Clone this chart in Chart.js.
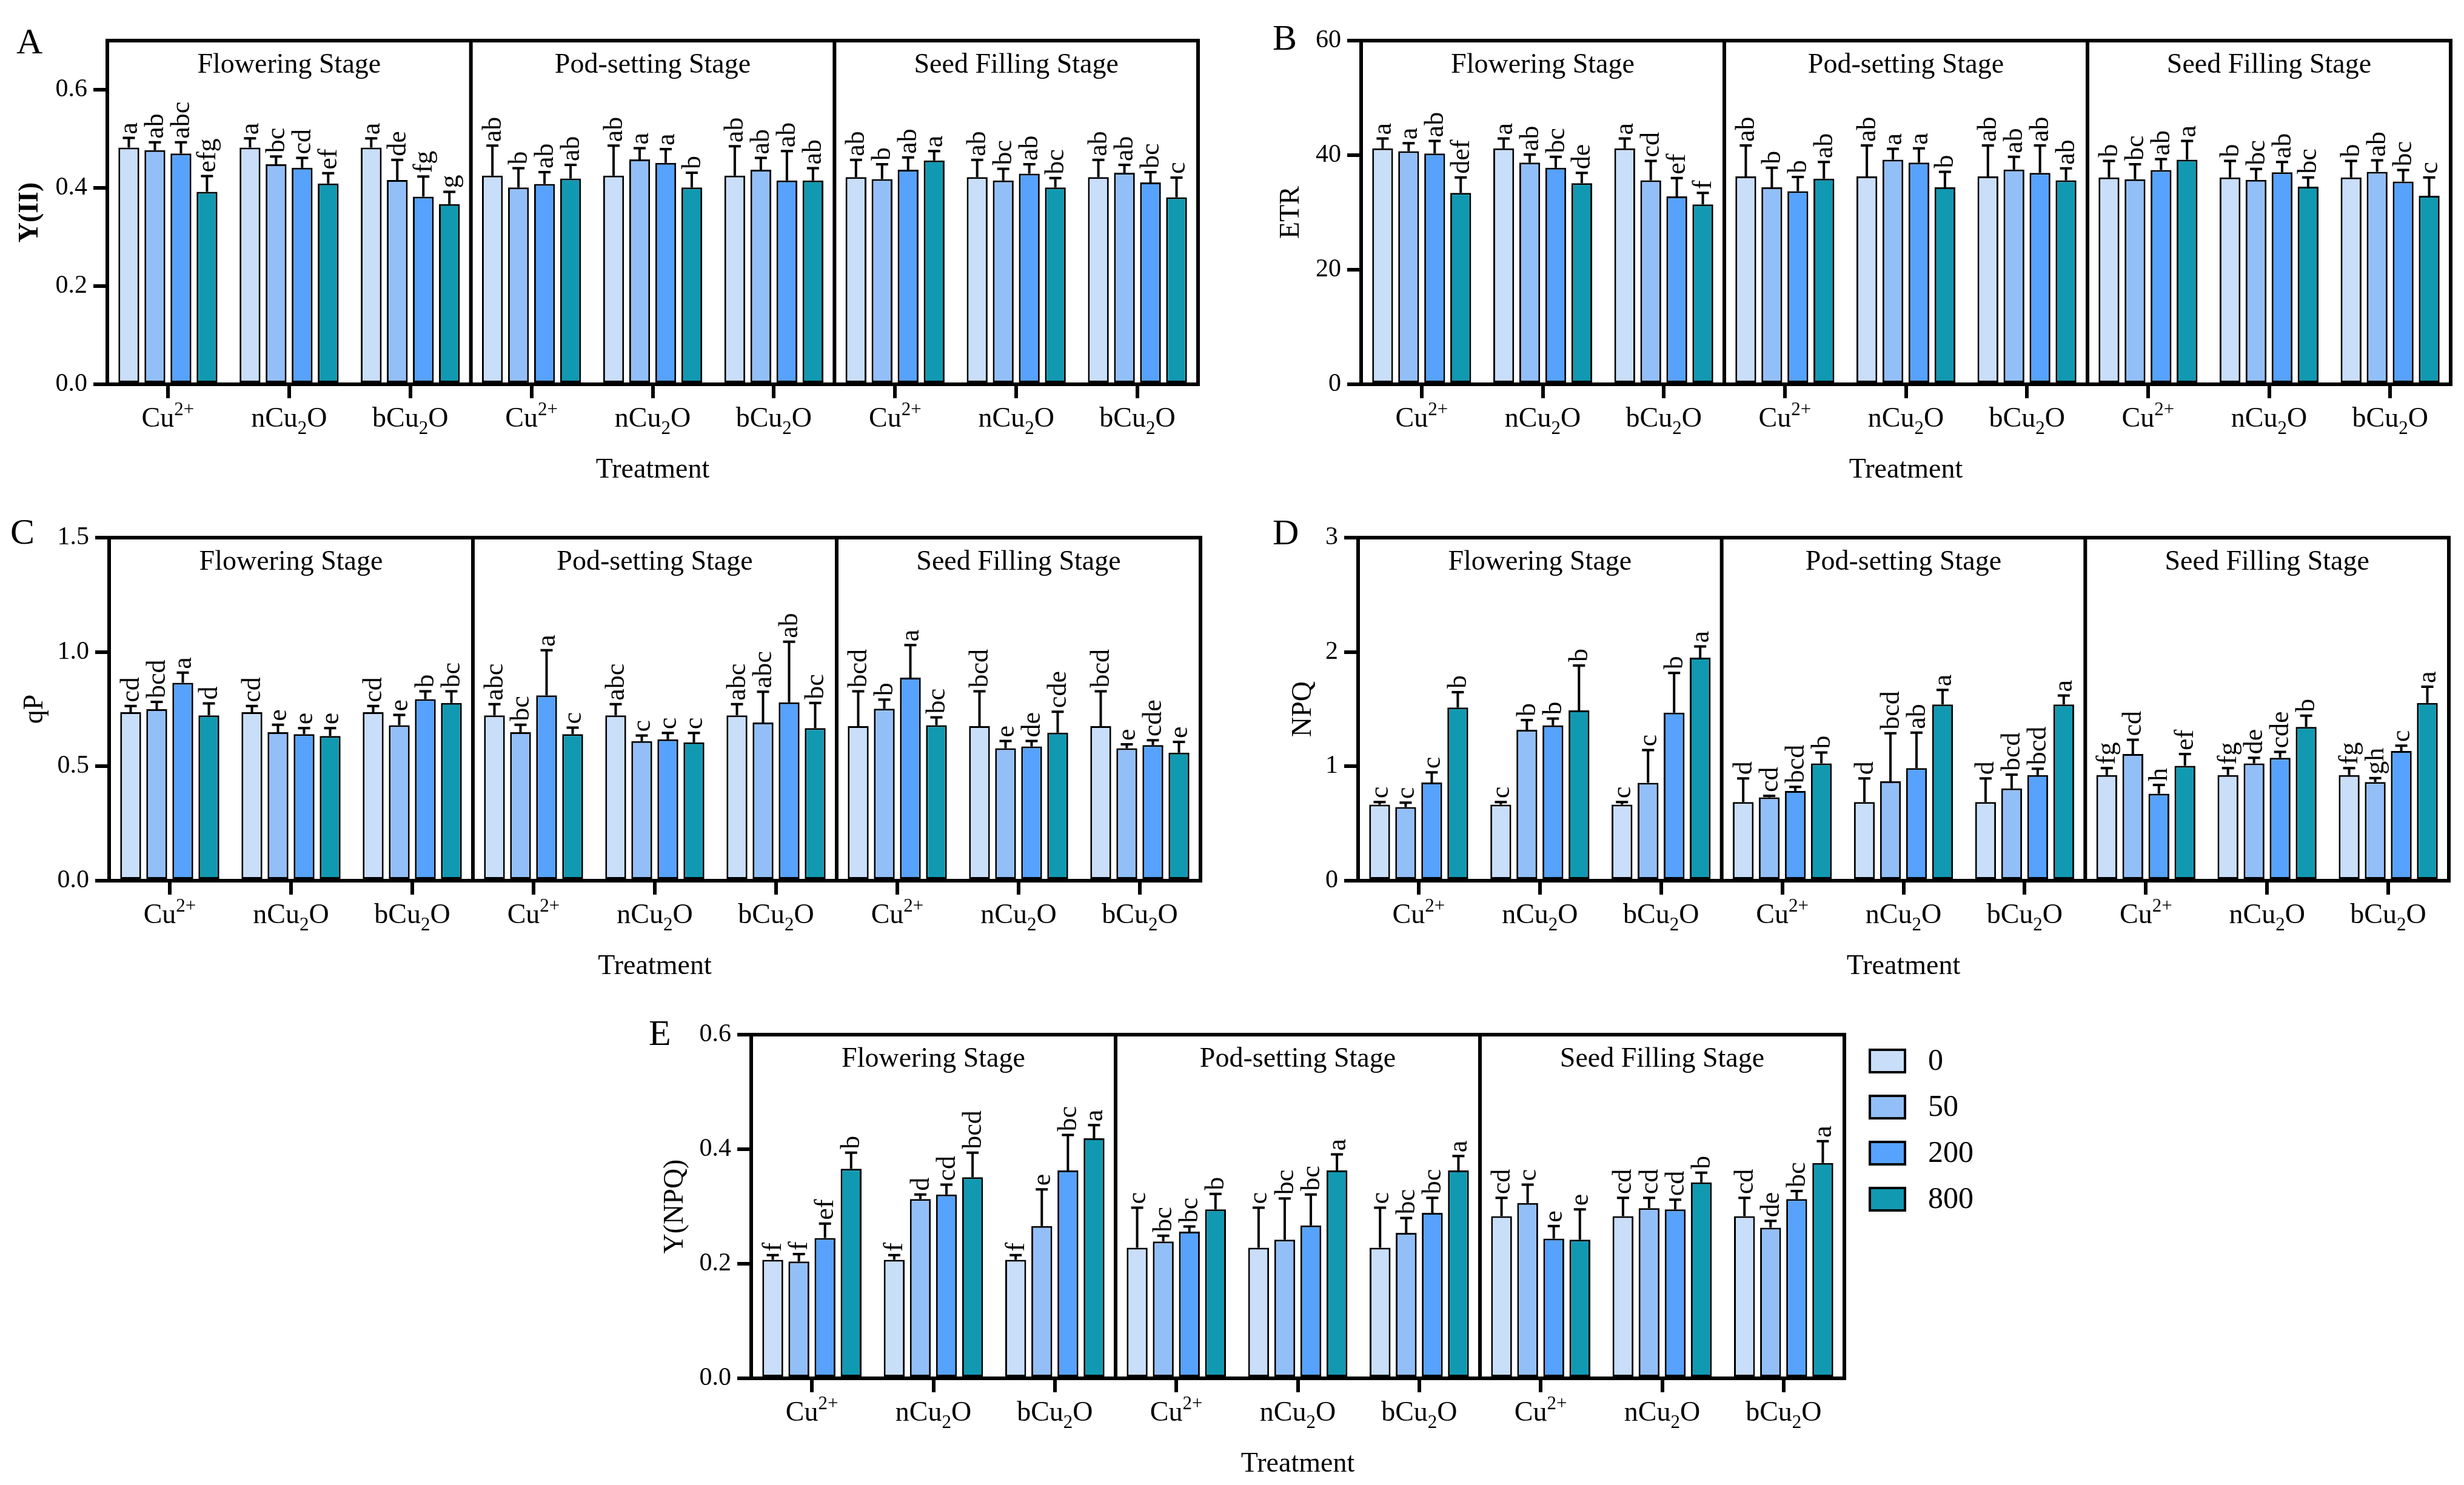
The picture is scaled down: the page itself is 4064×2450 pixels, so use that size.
<!DOCTYPE html>
<html>
<head>
<meta charset="utf-8">
<script src="https://cdn.jsdelivr.net/npm/chart.js@4.4.1/dist/chart.umd.min.js"></script>
<style>
    html, body { margin: 0; padding: 0; background: #fff; }
    #page { position: relative; width: 4064px; height: 2450px; overflow: hidden; background: #fff; }
    canvas { position: absolute; }
</style>
</head>
<body>
<div id="page">
    <canvas id="chartA"></canvas>
    <canvas id="chartB"></canvas>
    <canvas id="chartC"></canvas>
    <canvas id="chartD"></canvas>
    <canvas id="chartE"></canvas>
</div>
<script>
// Categories
const stages = ['Flowering Stage', 'Pod-setting Stage', 'Seed Filling Stage'];
const treatments = ['Cu^2+', 'nCu_2O', 'bCu_2O'];
const concentrations = ['0', '50', '200', '800'];
const concColors = ['#c9def9', '#93bff9', '#56a2fc', '#1199b2'];

// Rows: Flowering (Cu, n, b), Pod-setting (Cu, n, b), Seed filling (Cu, n, b); columns: 0, 50, 200, 800
const yiiMeans = [
    [0.482, 0.477, 0.470, 0.392], [0.482, 0.448, 0.441, 0.409], [0.482, 0.416, 0.382, 0.367],
    [0.425, 0.401, 0.408, 0.419], [0.425, 0.458, 0.451, 0.401], [0.425, 0.437, 0.415, 0.415],
    [0.422, 0.418, 0.437, 0.456], [0.422, 0.415, 0.429, 0.401], [0.422, 0.431, 0.411, 0.381]
];
const yiiErrors = [
    [0.020, 0.016, 0.023, 0.032], [0.019, 0.016, 0.020, 0.021], [0.019, 0.041, 0.041, 0.025],
    [0.061, 0.039, 0.024, 0.028], [0.061, 0.023, 0.028, 0.030], [0.060, 0.024, 0.060, 0.025],
    [0.035, 0.030, 0.025, 0.019], [0.035, 0.024, 0.019, 0.019], [0.035, 0.016, 0.021, 0.040]
];
const yiiLetters = [
    ['a', 'ab', 'abc', 'efg'], ['a', 'bc', 'cd', 'ef'], ['a', 'de', 'fg', 'g'],
    ['ab', 'b', 'ab', 'ab'], ['ab', 'a', 'a', 'b'], ['ab', 'ab', 'ab', 'ab'],
    ['ab', 'b', 'ab', 'a'], ['ab', 'bc', 'ab', 'bc'], ['ab', 'ab', 'bc', 'c']
];

const etrMeans = [
    [41.2, 40.7, 40.3, 33.4], [41.2, 38.7, 37.8, 35.1], [41.2, 35.6, 32.8, 31.4],
    [36.3, 34.4, 33.7, 35.9], [36.3, 39.2, 38.7, 34.4], [36.3, 37.5, 36.9, 35.6],
    [36.1, 35.8, 37.4, 39.2], [36.1, 35.7, 37.0, 34.5], [36.1, 37.1, 35.4, 32.9]
];
const etrErrors = [
    [1.7, 1.4, 2.2, 2.7], [1.7, 1.4, 1.9, 1.8], [1.7, 3.4, 3.2, 2.0],
    [5.4, 3.4, 2.5, 2.9], [5.4, 1.9, 2.5, 2.7], [5.4, 2.2, 4.8, 2.1],
    [2.9, 2.6, 1.9, 3.3], [2.9, 1.9, 1.8, 1.6], [2.9, 2.0, 2.0, 3.2]
];
const etrLetters = [
    ['a', 'a', 'ab', 'def'], ['a', 'ab', 'bc', 'de'], ['a', 'cd', 'ef', 'f'],
    ['ab', 'b', 'b', 'ab'], ['ab', 'a', 'a', 'b'], ['ab', 'ab', 'ab', 'ab'],
    ['b', 'bc', 'ab', 'a'], ['b', 'bc', 'ab', 'bc'], ['b', 'ab', 'bc', 'c']
];

const qpMeans = [
    [0.737, 0.750, 0.865, 0.723], [0.737, 0.649, 0.641, 0.633], [0.737, 0.680, 0.794, 0.777],
    [0.723, 0.649, 0.810, 0.641], [0.723, 0.610, 0.618, 0.605], [0.723, 0.692, 0.780, 0.667],
    [0.676, 0.752, 0.888, 0.680], [0.676, 0.579, 0.587, 0.647], [0.676, 0.579, 0.593, 0.560]
];
const qpErrors = [
    [0.027, 0.032, 0.045, 0.052], [0.027, 0.033, 0.026, 0.034], [0.027, 0.045, 0.034, 0.051],
    [0.049, 0.033, 0.198, 0.028], [0.049, 0.025, 0.028, 0.041], [0.049, 0.134, 0.265, 0.110],
    [0.152, 0.040, 0.142, 0.034], [0.152, 0.032, 0.024, 0.092], [0.152, 0.017, 0.021, 0.047]
];
const qpLetters = [
    ['cd', 'bcd', 'a', 'd'], ['cd', 'e', 'e', 'e'], ['cd', 'e', 'b', 'bc'],
    ['abc', 'bc', 'a', 'c'], ['abc', 'c', 'c', 'c'], ['abc', 'abc', 'ab', 'bc'],
    ['bcd', 'b', 'a', 'bc'], ['bcd', 'e', 'de', 'cde'], ['bcd', 'e', 'cde', 'e']
];

const npqMeans = [
    [0.665, 0.644, 0.858, 1.515], [0.665, 1.320, 1.358, 1.490], [0.665, 0.856, 1.469, 1.951],
    [0.688, 0.729, 0.784, 1.026], [0.688, 0.869, 0.985, 1.541], [0.688, 0.807, 0.923, 1.541],
    [0.923, 1.108, 0.760, 1.005], [0.923, 1.026, 1.075, 1.345], [0.923, 0.863, 1.134, 1.554]
];
const npqErrors = [
    [0.023, 0.039, 0.090, 0.134], [0.023, 0.085, 0.060, 0.391], [0.023, 0.286, 0.348, 0.098],
    [0.206, 0.013, 0.036, 0.095], [0.206, 0.420, 0.309, 0.127], [0.206, 0.121, 0.056, 0.078],
    [0.062, 0.124, 0.078, 0.103], [0.062, 0.049, 0.051, 0.098], [0.062, 0.034, 0.046, 0.142]
];
const npqLetters = [
    ['c', 'c', 'c', 'b'], ['c', 'b', 'b', 'b'], ['c', 'c', 'b', 'a'],
    ['d', 'cd', 'bcd', 'b'], ['d', 'bcd', 'ab', 'a'], ['d', 'bcd', 'bcd', 'a'],
    ['fg', 'cd', 'h', 'ef'], ['fg', 'de', 'cde', 'b'], ['fg', 'gh', 'c', 'a']
];

const ynpqMeans = [
    [0.207, 0.204, 0.245, 0.366], [0.207, 0.313, 0.321, 0.351], [0.207, 0.266, 0.363, 0.419],
    [0.228, 0.239, 0.256, 0.295], [0.228, 0.242, 0.267, 0.363], [0.228, 0.254, 0.289, 0.363],
    [0.283, 0.306, 0.244, 0.242], [0.283, 0.297, 0.295, 0.342], [0.283, 0.263, 0.313, 0.376]
];
const ynpqErrors = [
    [0.008, 0.013, 0.025, 0.028], [0.008, 0.008, 0.017, 0.043], [0.008, 0.064, 0.062, 0.023],
    [0.070, 0.010, 0.009, 0.027], [0.070, 0.072, 0.054, 0.028], [0.070, 0.026, 0.026, 0.025],
    [0.032, 0.032, 0.022, 0.053], [0.032, 0.018, 0.017, 0.017], [0.032, 0.012, 0.014, 0.038]
];
const ynpqLetters = [
    ['f', 'f', 'ef', 'b'], ['f', 'd', 'cd', 'bcd'], ['f', 'e', 'bc', 'a'],
    ['c', 'bc', 'bc', 'b'], ['c', 'bc', 'bc', 'a'], ['c', 'bc', 'bc', 'a'],
    ['cd', 'c', 'e', 'e'], ['cd', 'cd', 'cd', 'b'], ['cd', 'de', 'bc', 'a']
];

// Layout (page pixels)
const SERIF = '"Liberation Serif", "Times New Roman", serif';
const panels = [
    { id: 'chartA', letter: 'A', yTitle: 'Y(II)', bold: true, means: yiiMeans, errors: yiiErrors, letters: yiiLetters,
      max: 0.7, step: 0.2, decimals: 1, box: { left: 0, top: 0, width: 2040, height: 830 },
      area: { left: 177, top: 67, right: 1976, bottom: 634 }, yTitleX: 50, letterPos: [27, 88] },
    { id: 'chartB', letter: 'B', yTitle: 'ETR', means: etrMeans, errors: etrErrors, letters: etrLetters,
      max: 60, step: 20, decimals: 0, box: { left: 2040, top: 0, width: 2024, height: 830 },
      area: { left: 2245, top: 67, right: 4042, bottom: 634 }, yTitleX: 2130, letterPos: [2099, 82] },
    { id: 'chartC', letter: 'C', yTitle: 'qP', means: qpMeans, errors: qpErrors, letters: qpLetters,
      max: 1.5, step: 0.5, decimals: 1, box: { left: 0, top: 830, width: 2040, height: 820 },
      area: { left: 180, top: 887, right: 1980, bottom: 1453 }, yTitleX: 58, letterPos: [17, 897] },
    { id: 'chartD', letter: 'D', yTitle: 'NPQ', means: npqMeans, errors: npqErrors, letters: npqLetters,
      max: 3, step: 1, decimals: 0, box: { left: 2040, top: 830, width: 2024, height: 820 },
      area: { left: 2240, top: 887, right: 4039, bottom: 1453 }, yTitleX: 2150, letterPos: [2099, 898] },
    { id: 'chartE', letter: 'E', yTitle: 'Y(NPQ)', means: ynpqMeans, errors: ynpqErrors, letters: ynpqLetters,
      max: 0.6, step: 0.2, decimals: 1, box: { left: 1000, top: 1650, width: 2400, height: 800 },
      area: { left: 1239, top: 1707, right: 3042, bottom: 2274 }, yTitleX: 1114, letterPos: [1070, 1724], legend: true }
];

// Draws "Cu^2+" / "nCu_2O" with super/subscripts, centered at x
function drawChem(ctx, text, x, y, size) {
    const parts = text.match(/\^[^A-Za-z]+|_[0-9]+|[^_^]+/g);
    const small = Math.round(size * 0.68);
    const pieces = parts.map(p => {
        const kind = p[0] === '^' ? 1 : p[0] === '_' ? -1 : 0;
        const str = kind ? p.slice(1) : p;
        ctx.font = `${kind ? small : size}px ${SERIF}`;
        return { str, kind, w: ctx.measureText(str).width };
    });
    let cx = x - pieces.reduce((s, p) => s + p.w, 0) / 2;
    ctx.textAlign = 'left';
    ctx.textBaseline = 'alphabetic';
    pieces.forEach(p => {
        ctx.font = `${p.kind ? small : size}px ${SERIF}`;
        const dy = p.kind === 1 ? -size * 0.42 : p.kind === -1 ? size * 0.26 : 0;
        ctx.fillText(p.str, cx, y + dy);
        cx += p.w;
    });
}

function makeDecor(p) {
    const ox = p.box.left, oy = p.box.top;
    return {
        id: 'decor',
        afterDatasetsDraw(chart) {
            const ctx = chart.ctx;
            const yScale = chart.scales.y;
            ctx.save();
            chart.data.datasets.forEach((ds, k) => {
                chart.getDatasetMeta(k).data.forEach((bar, i) => {
                    const top = yScale.getPixelForValue(p.means[i][k] + p.errors[i][k]);
                    ctx.strokeStyle = '#000';
                    ctx.lineWidth = 4;
                    ctx.beginPath();
                    ctx.moveTo(bar.x, bar.y);
                    ctx.lineTo(bar.x, top);
                    ctx.moveTo(bar.x - 10, top);
                    ctx.lineTo(bar.x + 10, top);
                    ctx.stroke();
                    // significance letters, rotated
                    ctx.save();
                    ctx.translate(bar.x + 2, top - 6);
                    ctx.rotate(-Math.PI / 2);
                    ctx.fillStyle = '#000';
                    ctx.font = `44px ${SERIF}`;
                    ctx.textAlign = 'left';
                    ctx.textBaseline = 'middle';
                    ctx.fillText(p.letters[i][k], 0, 0);
                    ctx.restore();
                });
            });
            ctx.restore();
        },
        afterDraw(chart) {
            const ctx = chart.ctx;
            const a = chart.chartArea;
            const xScale = chart.scales.x;
            ctx.save();
            ctx.strokeStyle = '#000';
            ctx.fillStyle = '#000';
            ctx.lineWidth = 6;
            ctx.strokeRect(a.left, a.top, a.right - a.left, a.bottom - a.top);
            const stageW = (a.right - a.left) / 3;
            [1, 2].forEach(s => {
                ctx.beginPath();
                ctx.moveTo(a.left + stageW * s, a.top);
                ctx.lineTo(a.left + stageW * s, a.bottom);
                ctx.stroke();
            });
            ctx.font = `46px ${SERIF}`;
            ctx.textAlign = 'center';
            ctx.textBaseline = 'alphabetic';
            stages.forEach((s, si) => ctx.fillText(s, a.left + stageW * (si + 0.5), a.top + 53));
            for (let i = 0; i < 9; i++) {
                drawChem(ctx, treatments[i % 3], xScale.getPixelForValue(i), a.bottom + 70, 46);
            }
            ctx.font = `46px ${SERIF}`;
            ctx.textAlign = 'center';
            ctx.fillText('Treatment', (a.left + a.right) / 2, a.bottom + 154);
            // y title
            ctx.save();
            ctx.translate(p.yTitleX - ox, (a.top + a.bottom) / 2);
            ctx.rotate(-Math.PI / 2);
            ctx.font = `${p.bold ? 'bold ' : ''}46px ${SERIF}`;
            ctx.textBaseline = 'middle';
            ctx.fillText(p.yTitle, 0, 0);
            ctx.restore();
            // panel letter
            ctx.font = `60px ${SERIF}`;
            ctx.textAlign = 'left';
            ctx.fillText(p.letter, p.letterPos[0] - ox, p.letterPos[1] - oy);
            if (p.legend) {
                concentrations.forEach((c, k) => {
                    const cy = 1750 + k * 76 - oy;
                    ctx.fillStyle = concColors[k];
                    ctx.fillRect(3084 - ox, cy - 18, 58, 37);
                    ctx.lineWidth = 4;
                    ctx.strokeRect(3084 - ox, cy - 18, 58, 37);
                    ctx.fillStyle = '#000';
                    ctx.font = `50px ${SERIF}`;
                    ctx.textBaseline = 'middle';
                    ctx.fillText(c, 3180 - ox, cy + 2);
                });
            }
            ctx.restore();
        }
    };
}

function buildChart(p) {
    const canvas = document.getElementById(p.id);
    canvas.width = p.box.width;
    canvas.height = p.box.height;
    canvas.style.left = p.box.left + 'px';
    canvas.style.top = p.box.top + 'px';
    canvas.style.width = p.box.width + 'px';
    canvas.style.height = p.box.height + 'px';

    const labels = stages.flatMap(s => treatments.map(t => `${s} ${t}`));
    const datasets = concentrations.map((c, k) => ({
        label: c,
        data: p.means.map(row => row[k]),
        backgroundColor: concColors[k],
        borderColor: '#000',
        borderWidth: 3,
        borderSkipped: false,
        barPercentage: 0.8,
        categoryPercentage: 0.86
    }));

    return new Chart(canvas, {
        type: 'bar',
        data: { labels, datasets },
        options: {
            responsive: false,
            animation: false,
            devicePixelRatio: 1,
            layout: {
                padding: {
                    left: 0,
                    top: p.area.top - p.box.top,
                    right: p.box.left + p.box.width - p.area.right,
                    bottom: 0
                }
            },
            plugins: { legend: { display: false }, tooltip: { enabled: false } },
            scales: {
                x: {
                    grid: { offset: false, drawOnChartArea: false, drawTicks: true, tickLength: 23, lineWidth: 6, color: '#000' },
                    border: { display: true, width: 6, color: '#000' },
                    ticks: { display: false },
                    afterFit: scale => { scale.height = p.box.top + p.box.height - p.area.bottom; }
                },
                y: {
                    min: 0,
                    max: p.max,
                    grid: { drawOnChartArea: false, drawTicks: true, tickLength: 23, lineWidth: 6, color: '#000' },
                    border: { display: true, width: 6, color: '#000' },
                    ticks: {
                        stepSize: p.step,
                        padding: 10,
                        color: '#000',
                        font: { family: SERIF, size: 42 },
                        callback: v => v.toFixed(p.decimals)
                    },
                    afterBuildTicks: scale => {
                        scale.ticks = scale.ticks.filter(t => Math.abs(t.value / p.step - Math.round(t.value / p.step)) < 1e-6);
                    },
                    afterFit: scale => { scale.width = p.area.left - p.box.left; }
                }
            }
        },
        plugins: [makeDecor(p)]
    });
}

panels.forEach(buildChart);
</script>
</body>
</html>
